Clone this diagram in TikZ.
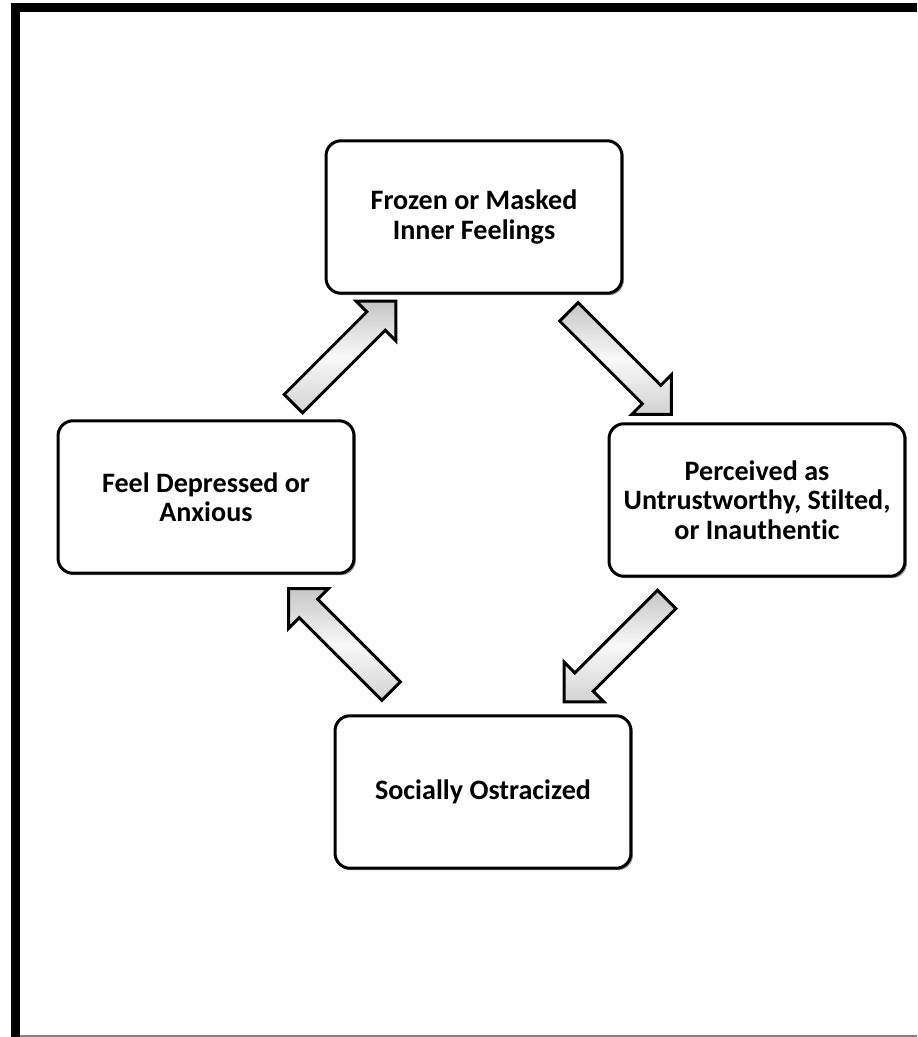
\documentclass[tikz,border=0pt]{standalone}
\usepackage{fontspec}
\setmainfont{Carlito}[Ligatures=NoCommon]
\usetikzlibrary{calc,shapes.arrows,shadows}

\tikzset{
  cyclebox/.style={draw=black, line width=0.06cm, rounded corners=0.3cm, fill=white,
    minimum width=5.92cm, minimum height=3.05cm, align=center,
    font=\fontsize{16}{16.8}\selectfont\bfseries,
    drop shadow={shadow xshift=0.04cm, shadow yshift=-0.04cm, fill=black!50, opacity=0.8}},
  cyclearrow/.style={single arrow, draw=black, line width=0.06cm, inner sep=0.23cm,
    minimum height=2.9cm, single arrow head extend=0.3cm,
    top color=gray!45, bottom color=gray!35, middle color=white!95!gray}
}

\begin{document}
\begin{tikzpicture}[x=0.02cm, y=-0.02cm]
  \useasboundingbox (0,0) rectangle (917,1037);
  \fill[white] (0,0) rectangle (917,1037);
  % frame
  \draw[line width=0.18cm] (15.5,1037) -- (15.5,7.5) -- (917,7.5);
  \draw[gray, line width=0.05cm] (20,1036) -- (917,1036);
  % boxes
  \node[cyclebox] (frozen)    at (474,217) {Frozen or Masked\\Inner Feelings};
  \node[cyclebox] (perceived) at (757,500) {Perceived as\\Untrustworthy, Stilted,\\or Inauthentic};
  \node[cyclebox] (ostracized) at (483,792) {Socially Ostracized};
  \node[cyclebox] (depressed) at (206,497) {Feel Depressed or\\Anxious};
  % arrows
  \node[cyclearrow, rotate=-45]  (a1) at ($(frozen.south east)!0.5!(perceived.north west)$) {};
  \node[cyclearrow, rotate=-135] (a2) at ($(perceived.south west)!0.5!(ostracized.north east)$) {};
  \node[cyclearrow, rotate=135]  (a3) at ($(ostracized.north west)!0.5!(depressed.south east)$) {};
  \node[cyclearrow, rotate=45]   (a4) at ($(depressed.north east)!0.5!(frozen.south west)$) {};
\end{tikzpicture}
\end{document}
